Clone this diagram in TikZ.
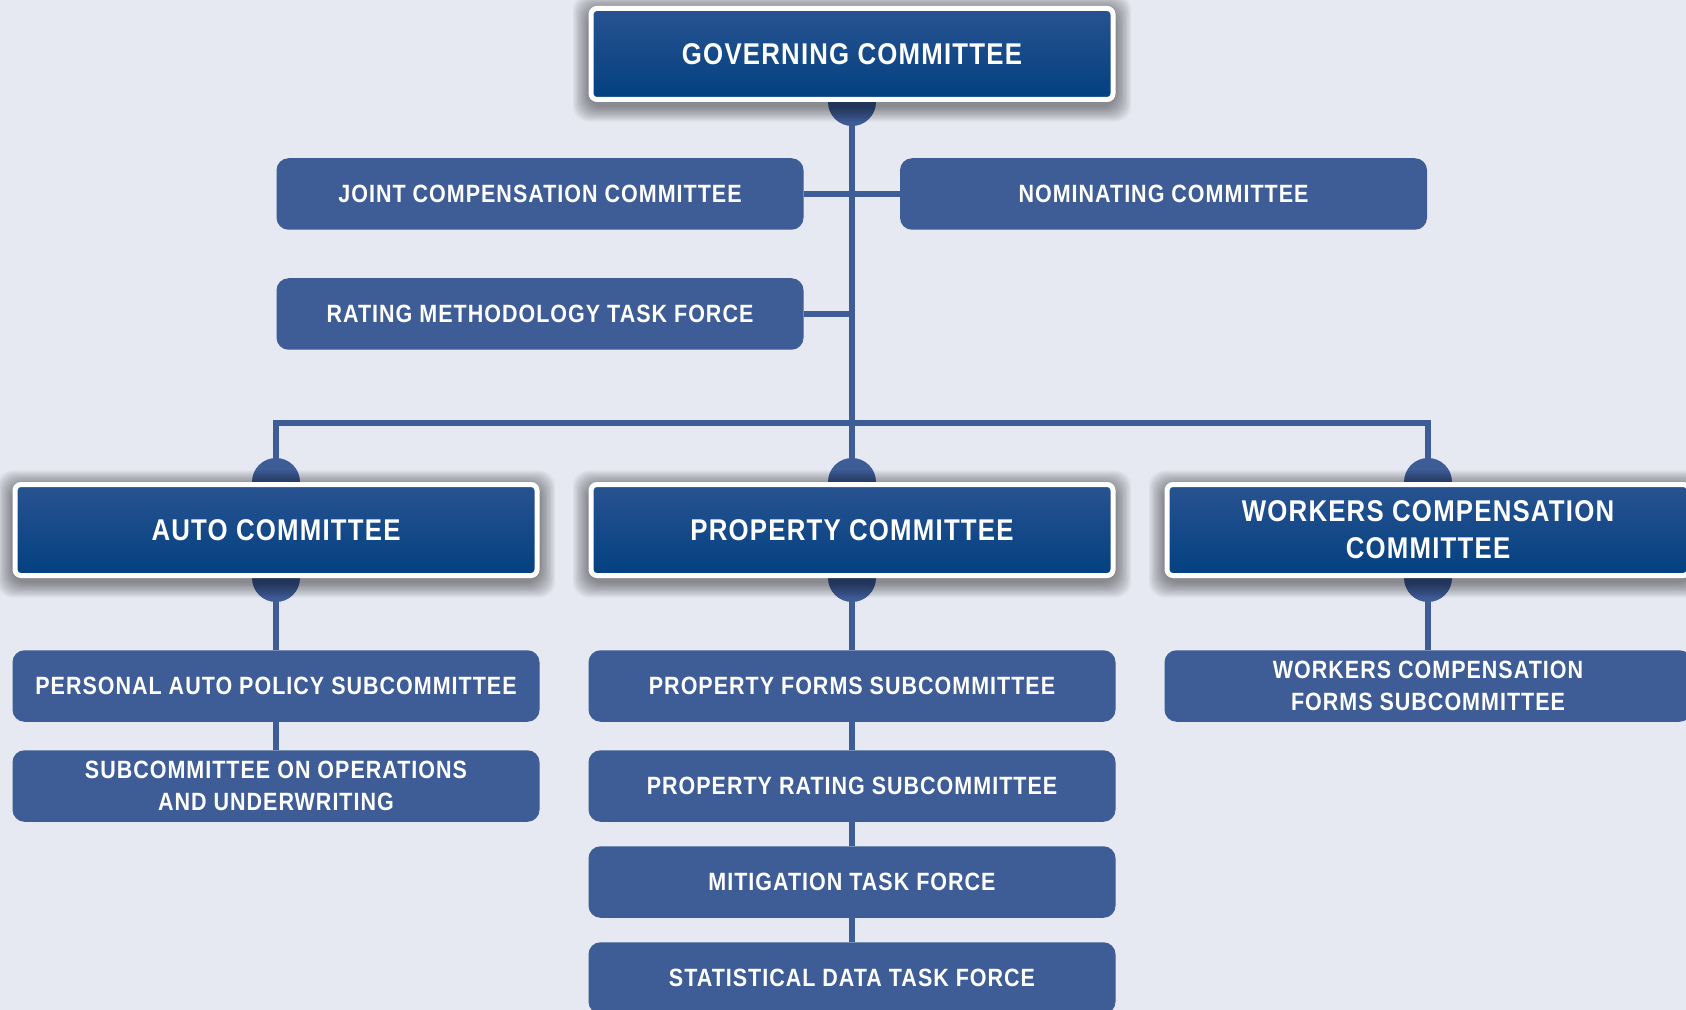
\documentclass[tikz,border=0pt]{standalone}
\usepackage{fontspec}
\newfontfamily\labfont{Liberation Sans}[FakeStretch=0.86,LetterSpace=4]
\definecolor{bgcol}{HTML}{E6E9F2}
\definecolor{boxblue}{HTML}{3E5C96}
\definecolor{gtop}{HTML}{3C5C98}
\definecolor{gbot}{HTML}{003F80}
\pgfdeclareverticalshading{boxgrad}{100bp}{color(0bp)=(gbot); color(22bp)=(gbot); color(100bp)=(gtop)}
\pgfdeclarelayer{bg}
\pgfdeclarelayer{shadow}
\pgfsetlayers{bg,shadow,main}
\tikzset{
  mainbox/.style={shade, shading=boxgrad, draw=white, line width=2.5pt, rounded corners=3pt,
    minimum width=261pt, minimum height=45.5pt, inner sep=0pt, text=white, align=center,
    font=\labfont\bfseries\fontsize{15}{18.5}\selectfont},
  subbox/.style={fill=boxblue, rounded corners=6pt, minimum width=263.5pt, minimum height=35.75pt,
    inner sep=0pt, text=white, align=center,
    font=\labfont\bfseries\fontsize{12.5}{16.2}\selectfont},
  conn/.style={draw=boxblue, line width=2.6pt},
  knob/.style={fill=boxblue},
  glow/.style={fill=black, opacity=0.04, rounded corners=8pt}
}
\begin{document}
\begin{tikzpicture}[x=0.5pt,y=-0.5pt]
\useasboundingbox (0,0) rectangle (1686,1010);
% level 0
\node[mainbox] (gov) at (852,54) {GOVERNING COMMITTEE};
% governing-level committees
\node[subbox] (joint) at (540,194) {JOINT COMPENSATION COMMITTEE};
\node[subbox] (nom) at (1163.5,194) {NOMINATING COMMITTEE};
\node[subbox] (rate) at (540,314) {RATING METHODOLOGY TASK FORCE};
% level 1
\node[mainbox] (auto) at (276,530) {AUTO COMMITTEE};
\node[mainbox] (prop) at (852,530) {PROPERTY COMMITTEE};
\node[mainbox] (wc) at (1428,530) {WORKERS COMPENSATION\\COMMITTEE};
% level 2
\node[subbox] (pa) at (276,686) {PERSONAL AUTO POLICY SUBCOMMITTEE};
\node[subbox] (ops) at (276,786) {SUBCOMMITTEE ON OPERATIONS\\AND UNDERWRITING};
\node[subbox] (pf) at (852,686) {PROPERTY FORMS SUBCOMMITTEE};
\node[subbox] (pr) at (852,786) {PROPERTY RATING SUBCOMMITTEE};
\node[subbox] (mit) at (852,882) {MITIGATION TASK FORCE};
\node[subbox] (stat) at (852,978) {STATISTICAL DATA TASK FORCE};
\node[subbox] (wcf) at (1428,686) {WORKERS COMPENSATION\\FORMS SUBCOMMITTEE};
\begin{pgfonlayer}{shadow}
\foreach \n in {gov,auto,prop,wc}{
  \foreach \i in {1,...,12}{
    \fill[glow] ([shift={(-1.3*\i,-1.3*\i+4)}]\n.north west) rectangle ([shift={(1.3*\i,1.3*\i+4)}]\n.south east);
  }
}
\end{pgfonlayer}
\begin{pgfonlayer}{bg}
\fill[bgcol] (0,0) rectangle (1686,1010);
\coordinate (bus) at (852,423);
\draw[conn] (gov.south) -- (prop.north);
\draw[conn] (joint.east) -- (nom.west);
\draw[conn] (rate.east) -- (rate.east -| gov.south);
\draw[conn] (auto.north) |- (bus) -| (wc.north);
\draw[conn] (auto.south) -- (pa.north);
\draw[conn] (pa.south) -- (ops.north);
\draw[conn] (prop.south) -- (pf.north);
\draw[conn] (pf.south) -- (pr.north);
\draw[conn] (pr.south) -- (mit.north);
\draw[conn] (mit.south) -- (stat.north);
\draw[conn] (wc.south) -- (wcf.north);
\fill[knob] (gov.south) circle[radius=12pt];
\fill[knob] (auto.north) circle[radius=12pt];
\fill[knob] (auto.south) circle[radius=12pt];
\fill[knob] (prop.north) circle[radius=12pt];
\fill[knob] (prop.south) circle[radius=12pt];
\fill[knob] (wc.north) circle[radius=12pt];
\fill[knob] (wc.south) circle[radius=12pt];
\end{pgfonlayer}
\end{tikzpicture}
\end{document}
